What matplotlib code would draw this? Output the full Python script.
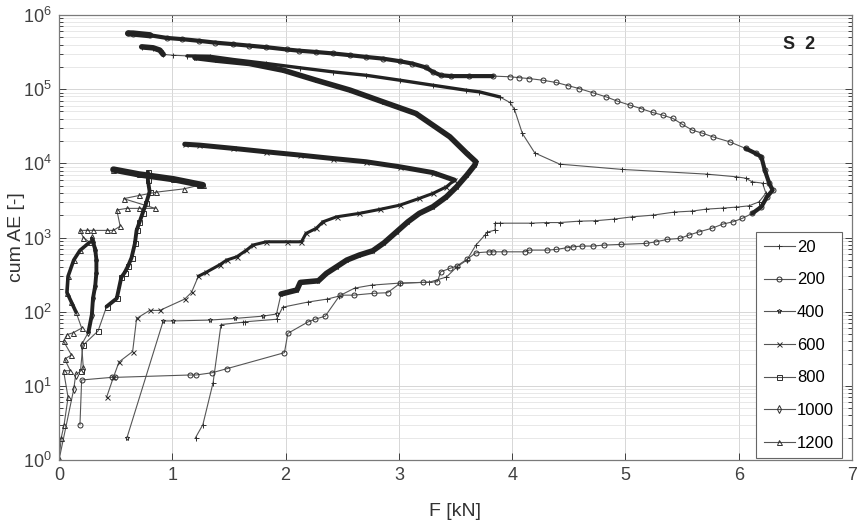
import numpy as np
import matplotlib
matplotlib.use('Agg')
import matplotlib.pyplot as plt
from matplotlib.lines import Line2D
from matplotlib.ticker import LogLocator, NullFormatter

plt.rcParams['font.family'] = ['Liberation Sans', 'DejaVu Sans']
plt.rcParams['mathtext.default'] = 'regular'

labels = ['20', '200', '400', '600', '800', '1000', '1200']
markers = ['+', 'o', '*', 'x', 's', 'd', '^']

# force F [kN] and cumulative AE hits for each series
f20 = [1.205, 1.27, 1.36, 1.43, 1.62, 1.64, 1.92, 1.975, 2.20, 2.37,
       2.47, 2.61, 2.76, 3.01, 3.27, 3.42, 3.51, 3.60, 3.68, 3.76,
       3.78, 3.85, 3.85, 3.89, 4.17, 4.30, 4.42, 4.59, 4.73, 4.90,
       5.06, 5.24, 5.43, 5.59, 5.71, 5.86, 5.98, 6.09, 6.18, 6.24,
       6.21, 6.12, 6.06, 5.98, 5.72, 4.97, 4.42, 4.20, 4.09, 4.02,
       3.98, 3.89, 3.71, 3.59, 3.30, 3.01, 2.71, 2.42, 2.13, 1.83,
       1.54, 1.33, 1.13, 1.005, 0.92, 0.89, 0.83, 0.73]
ae20 = [2, 3, 11, 67, 72, 73, 79, 115, 135, 148,
        162, 208, 228, 243, 250, 293, 399, 496, 790, 1080,
        1180, 1260, 1560, 1560, 1560, 1590, 1590, 1660, 1680, 1770,
        1900, 2000, 2200, 2270, 2410, 2490, 2570, 2670, 3030, 3960,
        5410, 5630, 6310, 6580, 7150, 8280, 9750, 13800, 25300, 53700,
        66200, 78700, 92000, 97000, 113000, 132000, 154000, 171000, 194000, 222000,
        251000, 278000, 281000, 287000, 294000, 336000, 361000, 372000]

f200 = [0.185, 0.20, 0.465, 0.49, 1.155, 1.21, 1.35, 1.48, 1.99, 2.02,
        2.20, 2.26, 2.35, 2.48, 2.60, 2.78, 2.90, 3.01, 3.21, 3.34,
        3.37, 3.45, 3.51, 3.60, 3.68, 3.80, 3.83, 3.93, 4.11, 4.15,
        4.31, 4.39, 4.48, 4.54, 4.62, 4.71, 4.81, 4.96, 5.18, 5.27,
        5.37, 5.48, 5.56, 5.65, 5.76, 5.86, 5.95, 6.03, 6.12, 6.20,
        6.25, 6.30, 6.27, 6.23, 6.20, 6.15, 6.06, 5.92, 5.77, 5.68,
        5.59, 5.50, 5.42, 5.33, 5.24, 5.14, 5.04, 4.93, 4.83, 4.71,
        4.59, 4.49, 4.39, 4.27, 4.15, 4.06, 3.98, 3.83, 3.62, 3.46,
        3.37, 3.30, 3.24, 3.12, 3.01, 2.86, 2.71, 2.57, 2.42, 2.27,
        2.12, 2.01, 1.83, 1.68, 1.54, 1.38, 1.24, 1.09, 0.95, 0.80,
        0.655, 0.61]
ae200 = [3, 12, 13, 13, 14, 14, 15, 17, 28, 51,
         73, 79, 87, 167, 167, 177, 180, 241, 248, 253,
         345, 383, 412, 507, 622, 641, 641, 641, 641, 676,
         676, 690, 727, 750, 766, 766, 790, 807, 832, 875,
         943, 972, 1077, 1193, 1327, 1516, 1629, 1808, 2113, 2594,
         3538, 4353, 5358, 8092, 12240, 13600, 15900, 19500, 22800, 25500,
         28000, 33700, 40300, 44600, 48500, 54600, 60900, 68900, 78700, 89700,
         102000, 112000, 123000, 132000, 139000, 143000, 147000, 150000, 150000, 150000,
         154000, 171000, 196000, 221000, 238000, 258000, 272000, 287000, 303000, 317000,
         330000, 343000, 368000, 386000, 404000, 424000, 448000, 472000, 491000, 534000,
         563000, 565000]

f400 = [0.60, 0.92, 1.01, 1.33, 1.55, 1.80, 1.92, 1.96, 2.10, 2.13,
        2.29, 2.36, 2.45, 2.54, 2.65, 2.77, 2.87, 2.98, 3.08, 3.18,
        3.30, 3.42, 3.51, 3.60, 3.67, 3.68, 3.60, 3.45, 3.15, 2.86,
        2.57, 2.27, 1.98, 1.68, 1.39, 1.20]
ae400 = [2, 75, 75, 77, 81, 87, 93, 173, 196, 248,
         261, 328, 403, 496, 579, 662, 849, 1194, 1629, 2113,
         2594, 3538, 4823, 6935, 9460, 10500, 13600, 22800, 47000, 67400,
         97000, 132000, 180000, 222000, 246000, 267000]

f600 = [0.42, 0.48, 0.53, 0.65, 0.685, 0.80, 0.89, 1.11, 1.17, 1.23,
        1.30, 1.42, 1.48, 1.57, 1.655, 1.71, 1.83, 2.01, 2.14, 2.18,
        2.27, 2.33, 2.45, 2.65, 2.83, 3.01, 3.18, 3.30, 3.42, 3.49,
        3.30, 3.01, 2.71, 2.42, 2.13, 1.83, 1.54, 1.24, 1.11]
ae600 = [7, 13, 21, 29, 81, 104, 104, 148, 182, 300,
         340, 430, 496, 550, 676, 790, 875, 875, 875, 1135,
         1327, 1629, 1900, 2113, 2390, 2734, 3365, 3930, 4823, 5940,
         7500, 8970, 10500, 11600, 12900, 14300, 15900, 17600, 18100]

f800 = [0.19, 0.21, 0.345, 0.42, 0.51, 0.55, 0.58, 0.61, 0.64, 0.67,
        0.685, 0.71, 0.74, 0.77, 0.80, 0.785, 0.785]
ae800 = [16, 35, 55, 117, 151, 290, 337, 413, 531, 832,
         1247, 1597, 2167, 2925, 4156, 5900, 7590]

f1000 = [0, 0.13, 0.147, 0.215, 0.20, 0.26, 0.29, 0.30, 0.32, 0.33,
         0.33, 0.32, 0.30, 0.29]
ae1000 = [1, 9, 14, 17, 36, 53, 91, 151, 225, 337,
          505, 683, 878, 970]

f1200 = [0, 0.02, 0.045, 0.08, 0.04, 0.10, 0.05, 0.11, 0.04, 0.07,
         0.125, 0.20, 0.15, 0.11, 0.07, 0.08, 0.13, 0.185, 0.27, 0.215,
         0.185, 0.245, 0.30, 0.42, 0.48, 0.54, 0.51, 0.60, 0.71, 0.85,
         0.57, 0.71, 0.86, 1.10, 1.24, 1.27, 1.01, 0.71, 0.48]
ae1200 = [1, 2, 3, 7, 16, 16, 23, 26, 40, 49,
          52, 60, 99, 134, 181, 300, 496, 670, 861, 1000,
          1247, 1247, 1247, 1247, 1247, 1420, 2350, 2470, 2470, 2470,
          3340, 3690, 4090, 4520, 5080, 5080, 6110, 7080, 8250]

series = [(f20, ae20), (f200, ae200), (f400, ae400), (f600, ae600),
          (f800, ae800), (f1000, ae1000), (f1200, ae1200)]

# stretches where the hits come so fast that the markers merge into a solid band
# (AE range, line width) -- AE only grows along a series, so a range is one stretch
heavy = {
    '20': [(78700, 281000, 2.4), (294000, 372000, 4.0)],
    '200': [(2113, 15900, 3.0), (150000, 534000, 3.0), (534000, 565000, 4.5)],
    '400': [(173, 267000, 4.0)],
    '600': [(300, 5940, 2.2), (5940, 18100, 3.6)],
    '800': [(117, 7590, 2.8)],
    '1000': [(53, 970, 2.8)],
    '1200': [(99, 861, 2.6), (5080, 8250, 4.6)],
}

line_c = '#555555'
mark_c = '#2e2e2e'

fig = plt.figure(figsize=(8.58, 5.26), dpi=100)
ax = fig.add_axes([59 / 858, 1 - 460 / 526, 793 / 858, 445 / 526])

handles = []
for lab, mk, (f, ae) in zip(labels, markers, series):
    f = np.asarray(f, dtype=float)
    ae = np.asarray(ae, dtype=float)
    style = dict(color=line_c, lw=0.8, marker=mk, ms=3.6, mew=0.7,
                 mfc='none', mec=mark_c)
    ax.plot(f, ae, zorder=2, **style)
    for lo, hi, lw in heavy.get(lab, []):
        m = (ae >= lo) & (ae <= hi)
        ax.plot(f[m], ae[m], color='#222222', lw=lw, zorder=3,
                solid_capstyle='round', solid_joinstyle='round')
    handles.append(Line2D([], [], label=lab, **style))

ax.set_yscale('log')
ax.set_xlim(0, 7)
ax.set_ylim(1, 1e6)
ax.set_xticks(range(8))
ax.yaxis.set_major_locator(LogLocator(base=10, numticks=10))
ax.yaxis.set_minor_locator(LogLocator(base=10, subs=np.arange(2, 10), numticks=20))
ax.yaxis.set_minor_formatter(NullFormatter())

ax.grid(which='major', color='#d0d0d0', lw=0.6)
ax.grid(which='minor', axis='y', color='#dfdfdf', lw=0.5)
ax.set_axisbelow(True)

ax.tick_params(which='both', direction='in', top=True, right=True,
               colors='#404040', labelsize=13, width=0.7)
ax.tick_params(which='major', length=5, pad=5)
ax.tick_params(which='minor', length=3)
for sp in ax.spines.values():
    sp.set_color('#7a7a7a')
    sp.set_linewidth(0.9)

ax.set_xlabel('F [kN]', fontsize=14, color='#333333', labelpad=14)
ax.set_ylabel('cum AE [-]', fontsize=14, color='#333333')
ax.yaxis.set_label_coords(-0.043, 0.5)

ax.text(0.913, 0.933, 'S  2', transform=ax.transAxes, fontsize=13,
        fontweight='bold', color='#222222', va='center')

leg = ax.legend(handles=handles, loc='lower right', bbox_to_anchor=(0.987, 0.004),
                fontsize=12, frameon=True, fancybox=False, framealpha=1,
                edgecolor='#666666', handlelength=1.85, handletextpad=0.15,
                labelspacing=1.06, borderpad=0.45, borderaxespad=0)
leg.get_frame().set_linewidth(0.8)

fig.savefig('out.png', dpi=100)
